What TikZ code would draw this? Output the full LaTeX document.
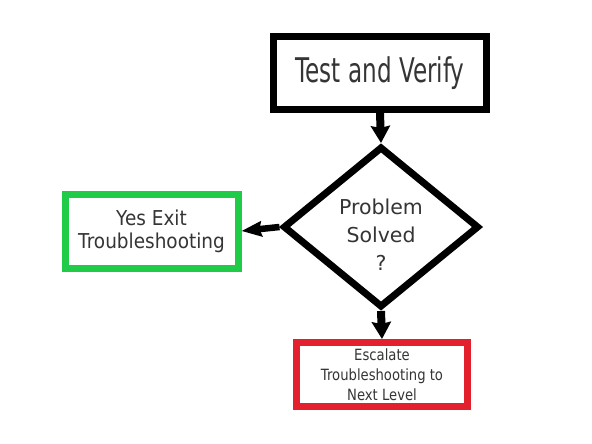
\documentclass[tikz,border=0pt]{standalone}
\usepackage{fontspec}
\usetikzlibrary{shapes.geometric,arrows.meta}
\newfontfamily\topfont[FakeStretch=0.68]{DejaVu Sans}
\newfontfamily\greenfont[FakeStretch=0.9]{DejaVu Sans}
\newfontfamily\redfont[FakeStretch=0.85]{DejaVu Sans}
\newfontfamily\diafont{DejaVu Sans}
\definecolor{txtgrey}{HTML}{353535}
\definecolor{boxgreen}{HTML}{1FCB47}
\definecolor{boxred}{HTML}{E2202E}
\begin{document}
\begin{tikzpicture}[x=1pt,y=-1pt,
  boxstyle/.style={draw, line width=7pt, rectangle, inner sep=0pt, align=center, text=txtgrey},
  flowarrow/.style={line width=8pt, -{Stealth[width=19pt,length=17pt,inset=2pt]}},
  sidearrow/.style={line width=6.5pt, -{Stealth[width=15pt,length=20pt,inset=2pt]}}]
\useasboundingbox (0,0) rectangle (592,444);
\fill[white] (0,0) rectangle (592,444);
\node[boxstyle, minimum width=213pt, minimum height=73pt, font=\topfont\fontsize{34}{38}\selectfont] (verify) at (380,73) {Test and Verify};
\node[draw, line width=7pt, diamond, aspect=1.22, minimum width=196pt, minimum height=161pt, inner sep=0pt] (dia) at (381,227) {};
\node[text=txtgrey, align=center, font=\diafont\fontsize{20.5}{28}\selectfont] (diatext) at (381,235) {Problem\\Solved\\?};
\node[boxstyle, draw=boxgreen, minimum width=173pt, minimum height=74pt, font=\greenfont\fontsize{20.5}{23}\selectfont] (yes) at (151.5,231) {Yes Exit\\Troubleshooting};
\node[boxstyle, draw=boxred, minimum width=171pt, minimum height=64pt, font=\redfont\fontsize{15.5}{20}\selectfont] (esc) at (382,374.5) {Escalate\\Troubleshooting to\\Next Level};
\draw[flowarrow] (verify.south) -- (dia.north);
\draw[sidearrow] (dia.west) -- (yes.east);
\draw[flowarrow] (dia.south) -- (esc.north);
\end{tikzpicture}
\end{document}
